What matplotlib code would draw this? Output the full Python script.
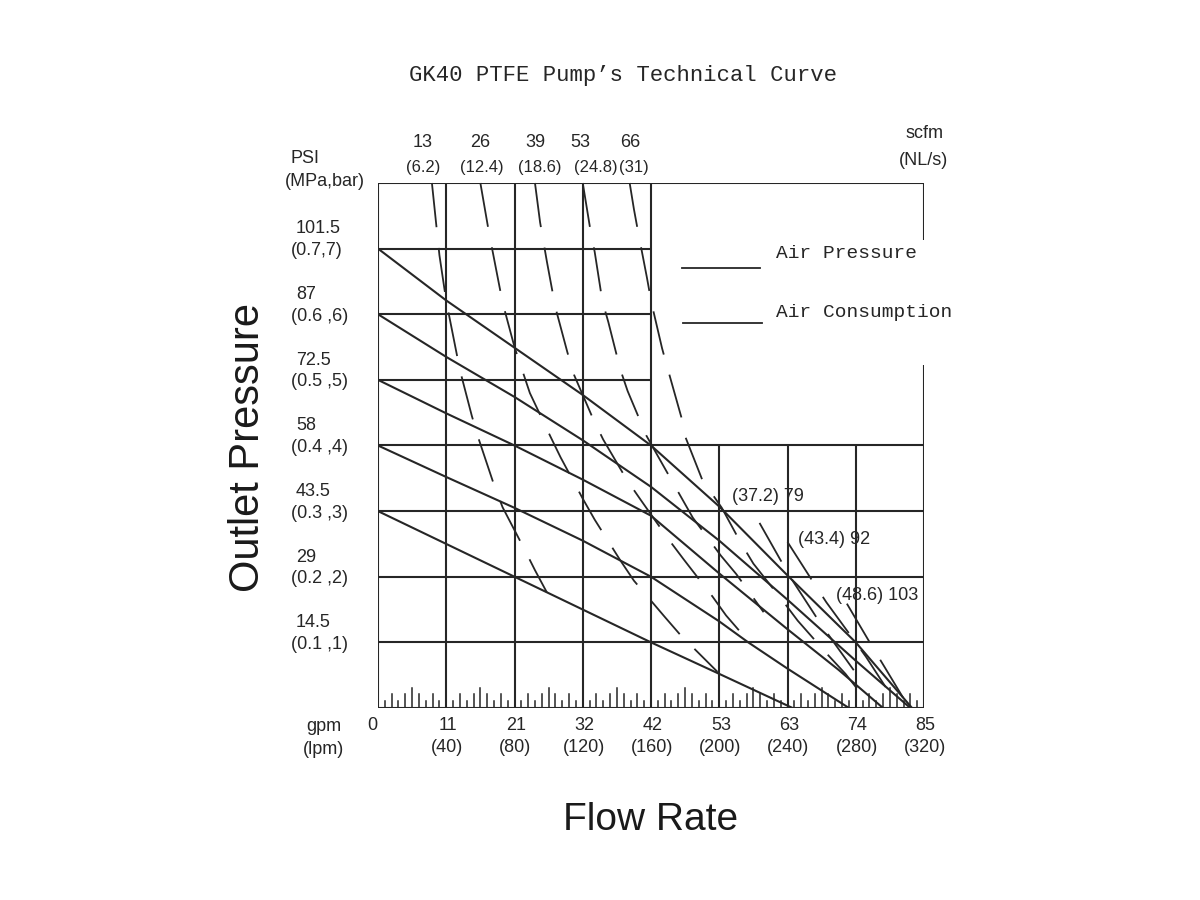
import matplotlib
matplotlib.use("Agg")
import matplotlib.pyplot as plt
from matplotlib.transforms import blended_transform_factory

plt.rcParams['lines.scale_dashes'] = False
plt.rcParams['font.family'] = ['Liberation Sans', 'DejaVu Sans']

# ---- data: flow in lpm, outlet pressure in bar ----
# air pressure curves (solid), start at 7, 6, 5, 4, 3 bar
pa_flow = [0, 40, 80, 120, 160, 200, 240, 280, 313]
pa_bar = [7, 6.21, 5.49, 4.77, 4.0, 3.07, 2.02, 1.0, 0]
pb_flow = [0, 40, 80, 120, 160, 200, 240, 280, 312]
pb_bar = [6, 5.35, 4.74, 4.08, 3.37, 2.55, 1.65, 0.72, 0]
pc_flow = [0, 40, 80, 120, 160, 200, 240, 270, 296]
pc_bar = [5, 4.49, 4.0, 3.48, 2.93, 2.05, 1.2, 0.58, 0]
pd_flow = [0, 40, 80, 120, 160, 200, 217, 240, 276]
pd_bar = [4, 3.52, 3.05, 2.55, 2.0, 1.32, 1.0, 0.6, 0]
pe_flow = [0, 40, 80, 120, 160, 200, 243]
pe_bar = [3, 2.5, 2.0, 1.5, 1.0, 0.52, 0]

# air consumption curves (dashed), scfm 13 ... 103
c13_flow = [31.6, 36, 40, 48, 55, 59, 68, 73, 86, 92, 99]
c13_bar = [8, 6.9, 6.2, 5.15, 4.45, 4.1, 3.4, 3.06, 2.41, 2.1, 1.76]
c26_flow = [60, 65, 73, 80, 89, 101, 107, 120, 127, 142, 150, 168, 177, 199]
c26_bar = [8, 7.25, 6.18, 5.5, 4.8, 4.14, 3.82, 3.19, 2.87, 2.25, 1.94, 1.39, 1.12, 0.55]
c39_flow = [92, 95, 99, 104, 111, 115, 126, 132, 146, 154, 170, 179, 196, 204, 217]
c39_bar = [8, 7.4, 6.8, 6.1, 5.42, 5.07, 4.41, 4.09, 3.47, 3.17, 2.58, 2.27, 1.7, 1.41, 1.02]
c53_flow = [120, 124.5, 127, 131.5, 135, 142, 146.3, 157.3, 164, 177.5, 184.5, 201, 210, 226]
c53_bar = [8, 7.28, 6.95, 6.2, 5.88, 5.16, 4.83, 4.15, 3.84, 3.22, 2.9, 2.32, 2.04, 1.46]
c66_flow = [147.5, 150, 152.4, 157.6, 160.3, 166.5, 170, 177.8, 180, 190, 201.5, 213, 220, 237, 246, 264, 274, 287]
c66_bar = [8, 7.6, 7.26, 6.56, 6.17, 5.48, 5.15, 4.43, 4.14, 3.48, 3.05, 2.5, 2.2, 1.64, 1.33, 0.8, 0.52, 0.09]
c79_flow = [223.6, 236, 243.5, 258.5, 266.6, 279]
c79_bar = [2.82, 2.25, 1.92, 1.32, 1.02, 0.57]
c92_flow = [240, 255, 262.8, 278.8, 286, 298]
c92_bar = [2.53, 1.92, 1.61, 1.04, 0.78, 0.3]
c103_flow = [274.8, 290, 297, 310]
c103_bar = [1.59, 0.92, 0.62, 0.06]

top_scfm = ["13", "26", "39", "53", "66"]
top_nls = ["(6.2)", "(12.4)", "(18.6)", "(24.8)", "(31)"]
inner_labels = ["(37.2) 79", "(43.4) 92", "(48.6) 103"]

y_levels = [7, 6, 5, 4, 3, 2, 1]
y_psi = ["101.5", "87", "72.5", "58", "43.5", "29", "14.5"]
y_mpa = ["(0.7,7)", "(0.6 ,6)", "(0.5 ,5)", "(0.4 ,4)", "(0.3 ,3)", "(0.2 ,2)", "(0.1 ,1)"]

x_levels = [0, 40, 80, 120, 160, 200, 240, 280, 320]
x_gpm = ["0", "11", "21", "32", "42", "53", "63", "74", "85"]
x_lpm = ["", "(40)", "(80)", "(120)", "(160)", "(200)", "(240)", "(280)", "(320)"]

# ---- figure ----
ink = '#262626'
fig = plt.figure(figsize=(12, 9), dpi=100)
ax = fig.add_axes([378 / 1200, 192 / 900, 546 / 1200, 525 / 900])
ax.set_xlim(0, 320)
ax.set_ylim(0, 8)
ax.axis('off')

# frame and grid
kw = dict(color=ink, lw=1.5, solid_capstyle='butt')
ax.plot([0, 0], [0, 8], **kw)
ax.plot([0, 320], [0, 0], **kw)
ax.plot([0, 320], [8, 8], **kw)
ax.plot([320, 320], [8, 7.13], **kw)
ax.plot([320, 320], [5.22, 0], **kw)
for y in [1, 2, 3, 4]:
    ax.plot([0, 320], [y, y], **kw)
for y in [5, 6, 7]:
    ax.plot([0, 160], [y, y], **kw)
for x in [40, 80, 120, 160]:
    ax.plot([x, x], [0, 8], **kw)
for x in [200, 240, 280]:
    ax.plot([x, x], [0, 4], **kw)

# minor ticks along the flow axis
tick_len = {1: 0.11, 2: 0.21, 3: 0.11, 4: 0.21, 5: 0.3, 6: 0.21, 7: 0.11, 8: 0.21, 9: 0.11}
for x in range(4, 320, 4):
    k = (x % 40) // 4
    if k == 0:
        continue
    ax.plot([x, x], [0, tick_len[k]], color=ink, lw=1.1)

# air pressure curves
for fx, fy in [(pa_flow, pa_bar), (pb_flow, pb_bar), (pc_flow, pc_bar),
               (pd_flow, pd_bar), (pe_flow, pe_bar)]:
    ax.plot(fx, fy, color=ink, lw=1.5)

# air consumption curves
for fx, fy in [(c13_flow, c13_bar), (c26_flow, c26_bar), (c39_flow, c39_bar),
               (c53_flow, c53_bar), (c66_flow, c66_bar), (c79_flow, c79_bar),
               (c92_flow, c92_bar), (c103_flow, c103_bar)]:
    ax.plot(fx, fy, color=ink, lw=1.3, linestyle=(0, (32, 15)), clip_on=False)

# labels for consumption curves
num_font = dict(fontsize=13, color=ink)
top_x1 = [26, 60, 92, 118.5, 148]
top_x2 = [26.5, 61, 95, 127.5, 150]
for x, s in zip(top_x1, top_scfm):
    ax.text(x, 8.62, s, ha='center', va='center', **num_font)
for x, s in zip(top_x2, top_nls):
    ax.text(x, 8.23, s, ha='center', va='center', fontsize=12, color=ink)
ax.text(320, 8.75, "scfm", ha='center', va='center', **num_font)
ax.text(320, 8.35, "(NL/s)", ha='center', va='center', **num_font)
for (x, y), s in zip([(207.5, 3.23), (246, 2.56), (268.4, 1.72)], inner_labels):
    ax.text(x, y, s, ha='left', va='center', **num_font)

# pressure axis labels
tr = blended_transform_factory(fig.transFigure, ax.transData)
ax.text(290 / 1200, 8.38, "PSI", transform=tr, ha='left', va='center', **num_font)
ax.text(285 / 1200, 8.02, "(MPa,bar)", transform=tr, ha='left', va='center', **num_font)
for y, a, b in zip(y_levels, y_psi, y_mpa):
    ax.text(296 / 1200, y + 0.3, a, transform=tr, ha='left', va='center', **num_font)
    ax.text(291 / 1200, y - 0.03, b, transform=tr, ha='left', va='center', **num_font)

# flow axis labels
for x, a, b in zip(x_levels, x_gpm, x_lpm):
    xa = x - 3.5 if x == 0 else x + 1
    ax.text(xa, -0.27, a, ha='center', va='center', **num_font)
    ax.text(x + 0.5, -0.6, b, ha='center', va='center', **num_font)
ax.text(-32, -0.28, "gpm", ha='center', va='center', **num_font)
ax.text(-32, -0.63, "(lpm)", ha='center', va='center', **num_font)

# legend
mono = dict(family='Liberation Mono', fontsize=14, color=ink)
ax.plot([178, 224], [6.70, 6.70], color=ink, lw=1.3)
ax.plot([179, 225], [5.87, 5.87], color=ink, lw=1.3)
ax.text(233, 6.93, "Air Pressure", ha='left', va='center', **mono)
ax.text(233, 6.03, "Air Consumption", ha='left', va='center', **mono)

# titles
fig.text(623 / 1200, 1 - 75 / 900, "GK40 PTFE Pump\u2019s Technical Curve",
         ha='center', va='center', family='Liberation Mono', fontsize=16, color=ink)
fig.text(248 / 1200, 1 - 448 / 900, "Outlet Pressure", rotation=90,
         ha='center', va='center', fontsize=30, color='#1a1a1a')
fig.text(651 / 1200, 1 - 820 / 900, "Flow Rate",
         ha='center', va='center', fontsize=28, color='#1a1a1a')

fig.savefig("out.png", dpi=100, facecolor='white')
